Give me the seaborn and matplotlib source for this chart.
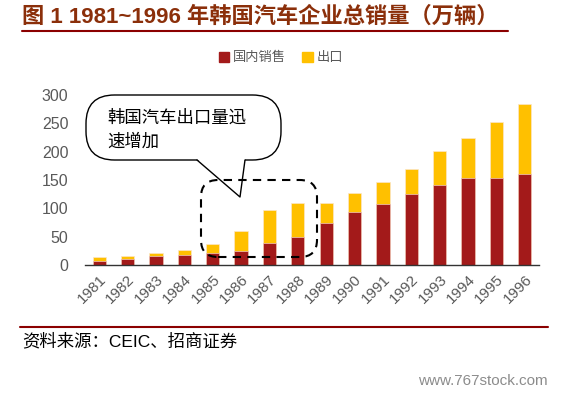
import numpy as np
import pandas as pd
import matplotlib
matplotlib.use("Agg")
import matplotlib.pyplot as plt
from matplotlib.patches import FancyBboxPatch, Polygon
from matplotlib.lines import Line2D
from matplotlib.patches import Patch
import seaborn as sns

years = [str(y) for y in range(1981, 1997)]
domestic = [7, 10.5, 16, 17.5, 21, 25, 39, 50, 74, 93, 107, 125, 141, 153, 153, 161]
total = [13.5, 15.5, 21, 26.5, 37, 60, 97, 110, 110, 127, 146, 169, 201, 225, 253, 285]
series_names = ["国内销售", "出口"]
title = "图 1 1981~1996 年韩国汽车企业总销量（万辆）"
callout = "韩国汽车出口量迅\n速增加"
source = "资料来源：CEIC、招商证券"

RED = "#A31A1A"
YELLOW = "#FFC000"
TITLE_C = "#8B2F0A"
LINE_C = "#8B0000"

df = pd.DataFrame({"year": years, "domestic": domestic, "total": total})

sns.set_theme(style="white")
plt.rcParams["font.family"] = ["Liberation Sans", "Noto Sans CJK SC", "DejaVu Sans"]

W, H = 570, 394
fig = plt.figure(figsize=(W / 100, H / 100), dpi=100)
ax = fig.add_axes([85 / W, (H - 265) / H, (539 - 85) / W, (265 - 95) / H])

sns.barplot(data=df, x="year", y="total", color=YELLOW, width=0.47,
            edgecolor="#fbe6c8", linewidth=0.5, saturation=1, ax=ax)
sns.barplot(data=df, x="year", y="domestic", color=RED, width=0.47,
            edgecolor="#f0c8c0", linewidth=0.5, saturation=1, ax=ax)

ax.set_xlim(-0.5, len(years) - 0.5)
ax.set_ylim(0, 300)
ax.set_yticks(range(0, 301, 50))
ax.set_xlabel("")
ax.set_ylabel("")
for s in ["left", "right", "top"]:
    ax.spines[s].set_visible(False)
ax.spines["bottom"].set_color("#333333")
ax.spines["bottom"].set_linewidth(1.0)
ax.tick_params(axis="y", length=0, labelsize=11.5, labelcolor="#595959", pad=12)
ax.tick_params(axis="x", which="major", length=0, labelsize=11, labelcolor="#595959", pad=5)
ax.set_xticks(np.arange(-0.5, len(years), 1.0), minor=True)
ax.tick_params(axis="x", which="minor", length=3.5, direction="in", color="#333333", width=1.0)
for lbl in ax.get_xticklabels():
    lbl.set_rotation(45)
    lbl.set_ha("right")
    lbl.set_rotation_mode("anchor")

handles = [Patch(color=RED), Patch(color=YELLOW)]
fig.legend(handles, series_names, loc="center", bbox_to_anchor=(281 / W, 1 - 58 / H),
           ncol=2, frameon=False, fontsize=9.5, handlelength=0.8, handleheight=0.8,
           handletextpad=0.3, columnspacing=1.2, labelcolor="#595959")


def fx(x):
    return x / W


def fy(y):
    return 1 - y / H


# header / footer
fig.text(fx(22), fy(17), title, fontsize=16, fontweight="bold", color=TITLE_C,
         va="center", ha="left")
fig.add_artist(Line2D([fx(22), fx(508)], [fy(31), fy(31)], color=LINE_C, lw=1.5))
fig.add_artist(Line2D([fx(20), fx(548)], [fy(327), fy(327)], color=LINE_C, lw=1.5))
fig.text(fx(22), fy(341), source, fontsize=12.5, color="black", va="center", ha="left")
fig.text(fx(548), fy(381), "www.767stock.com", fontsize=11, color="#8c8c8c",
         va="center", ha="right")

# speech bubble
bub = FancyBboxPatch((fx(86), fy(160)), fx(195), 65 / H,
                     boxstyle="round,pad=0,rounding_size=0.05",
                     transform=fig.transFigure, facecolor="white",
                     edgecolor="black", lw=1.0, mutation_aspect=W / H)
fig.add_artist(bub)
tail = Polygon([(fx(197), fy(159)), (fx(240), fy(197)), (fx(245), fy(159))],
               closed=True, transform=fig.transFigure, facecolor="white",
               edgecolor="none")
fig.add_artist(tail)
fig.add_artist(Line2D([fx(197), fx(240), fx(245)], [fy(160), fy(197), fy(160)],
                      color="black", lw=1.0))
fig.text(fx(107), fy(109), callout, fontsize=12.5, color="black", va="top",
         ha="left", linespacing=1.4, family=["Noto Sans CJK SC", "DejaVu Sans"])

# dashed highlight box
dash = FancyBboxPatch((fx(201), fy(257)), fx(116), 77 / H,
                      boxstyle="round,pad=0,rounding_size=0.03",
                      transform=fig.transFigure, facecolor="none",
                      edgecolor="black", lw=1.5, ls=(0, (4, 3)), mutation_aspect=W / H)
fig.add_artist(dash)

fig.savefig("out.png", dpi=100)
